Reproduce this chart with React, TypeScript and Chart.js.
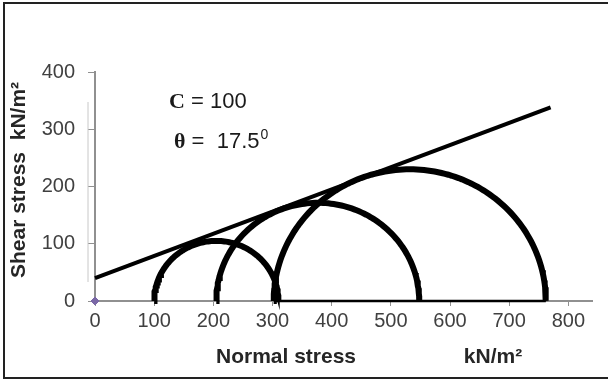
import React, { useEffect, useRef } from "react";
import { Chart, registerables } from "chart.js";

Chart.register(...registerables);

// Mohr circles: minor and major principal stresses (kN/m²)
const sigma3 = [100, 205, 302];
const sigma1 = [310, 548, 762];
// Failure envelope end points
const envelopeX = [0, 770];
const envelopeY = [40, 338];
// Black base segment along the normal-stress axis
const baseX = [305, 762];
const originPoint = [0, 0];
const xTicks = [0, 100, 200, 300, 400, 500, 600, 700, 800];
const yTicks = [0, 100, 200, 300, 400];

const xTitle = "Normal stress";
const xUnit = "kN/m²";
const yTitle = "Shear stress  kN/m²";
const cohesionLabel = ["C", " = 100"];
const phiLabel = ["θ", " =  17.5", "0"];

function semicircle(s3: number, s1: number) {
  const c = (s1 + s3) / 2;
  const r = (s1 - s3) / 2;
  const pts: { x: number; y: number }[] = [];
  for (let i = 0; i <= 120; i++) {
    const a = (Math.PI * i) / 120;
    pts.push({ x: c - r * Math.cos(a), y: r * Math.sin(a) });
  }
  return pts;
}

const decorPlugin = {
  id: "decor",
  beforeDraw(chart: any) {
    const ctx = chart.ctx;
    ctx.save();
    ctx.fillStyle = "#fff";
    ctx.fillRect(0, 0, chart.width, chart.height);
    ctx.restore();
  },
  afterDraw(chart: any) {
    const ctx = chart.ctx;
    ctx.save();
    // frame (left, top, bottom)
    ctx.strokeStyle = "#222";
    ctx.lineWidth = 2;
    ctx.beginPath();
    ctx.moveTo(chart.width, 3);
    ctx.lineTo(4, 3);
    ctx.lineTo(4, 378);
    ctx.lineTo(chart.width, 378);
    ctx.stroke();

    // faint secondary line near y axis
    ctx.strokeStyle = "#c8c8c8";
    ctx.lineWidth = 1;
    ctx.beginPath();
    ctx.moveTo(88, 102);
    ctx.lineTo(88, 282);
    ctx.stroke();

    ctx.fillStyle = "#262626";
    ctx.textBaseline = "middle";
    // x title
    ctx.font = "bold 21px 'Liberation Sans', Arial, sans-serif";
    ctx.textAlign = "center";
    ctx.fillText(xTitle, 286, 357);
    ctx.fillText(xUnit, 493, 357);

    // y title
    ctx.save();
    ctx.translate(19, 180);
    ctx.rotate(-Math.PI / 2);
    ctx.fillText(yTitle, 0, 0);
    ctx.restore();

    // annotations
    ctx.textAlign = "left";
    ctx.fillStyle = "#1a1a1a";
    ctx.font = "bold 22px 'Liberation Serif', 'Times New Roman', serif";
    ctx.fillText(cohesionLabel[0], 169, 102);
    let w = ctx.measureText(cohesionLabel[0]).width;
    ctx.font = "22px 'Liberation Sans', Arial, sans-serif";
    ctx.fillText(cohesionLabel[1], 169 + w, 102);

    ctx.font = "bold 22px 'Liberation Serif', 'Times New Roman', serif";
    ctx.fillText(phiLabel[0], 174, 142);
    w = ctx.measureText(phiLabel[0]).width;
    ctx.font = "22px 'Liberation Sans', Arial, sans-serif";
    ctx.fillText(phiLabel[1], 174 + w, 142);
    const w2 = ctx.measureText(phiLabel[1]).width;
    ctx.font = "14px 'Liberation Sans', Arial, sans-serif";
    ctx.fillText(phiLabel[2], 174 + w + w2 + 1, 135);
    ctx.restore();
  },
};

export default function App() {
  const ref = useRef<HTMLCanvasElement>(null);
  useEffect(() => {
    if (!ref.current) return;
    const circles = sigma3.map((s3, i) => ({
      label: "circle" + (i + 1),
      data: semicircle(s3, sigma1[i]),
      showLine: true,
      borderColor: "#000",
      borderWidth: 6,
      pointRadius: 0,
      clip: false as any,
    }));
    const chart = new Chart(ref.current, {
      type: "scatter",
      data: {
        datasets: [
          {
            label: "base",
            data: baseX.map((x) => ({ x, y: 0 })),
            showLine: true,
            borderColor: "#000",
            borderWidth: 2.5,
            pointRadius: 0,
            clip: false as any,
          },
          ...circles,
          {
            label: "envelope",
            data: envelopeX.map((x, i) => ({ x, y: envelopeY[i] })),
            showLine: true,
            borderColor: "#000",
            borderWidth: 4,
            pointRadius: 0,
            clip: false as any,
          },
          {
            label: "origin",
            data: [{ x: originPoint[0], y: originPoint[1] }],
            pointStyle: "rectRot",
            pointRadius: 4,
            backgroundColor: "#7a68a6",
            borderColor: "#7a68a6",
            clip: false as any,
          },
        ],
      },
      options: {
        responsive: false,
        animation: false,
        layout: { padding: { left: 0, right: 16, top: 72, bottom: 0 } },
        plugins: { legend: { display: false }, tooltip: { enabled: false } },
        scales: {
          x: {
            type: "linear",
            min: 0,
            max: 840,
            afterBuildTicks: (s: any) => {
              s.ticks = xTicks.map((v) => ({ value: v }));
            },
            afterFit: (s: any) => {
              s.height = 79;
            },
            border: { display: true, color: "#909090", width: 2 },
            grid: { drawOnChartArea: false, tickLength: 5, color: "#909090", lineWidth: 1 },
            ticks: {
              padding: 3,
              color: "#404040",
              font: { family: "'Liberation Sans', Arial, sans-serif", size: 20 },
              maxRotation: 0,
              autoSkip: false,
            },
          },
          y: {
            type: "linear",
            min: 0,
            max: 400,
            afterBuildTicks: (s: any) => {
              s.ticks = yTicks.map((v) => ({ value: v }));
            },
            afterFit: (s: any) => {
              s.width = 95;
            },
            border: { display: true, color: "#909090", width: 2 },
            grid: { drawOnChartArea: false, tickLength: 7, color: "#909090", lineWidth: 1 },
            ticks: {
              padding: 13,
              color: "#404040",
              font: { family: "'Liberation Sans', Arial, sans-serif", size: 20 },
            },
          },
        },
      },
      plugins: [decorPlugin],
    });
    return () => chart.destroy();
  }, []);
  return (
    <div style={{ position: "absolute", left: 0, top: 0, width: 608, height: 380 }}>
      <canvas ref={ref} width={608} height={380} style={{ display: "block" }} />
    </div>
  );
}
